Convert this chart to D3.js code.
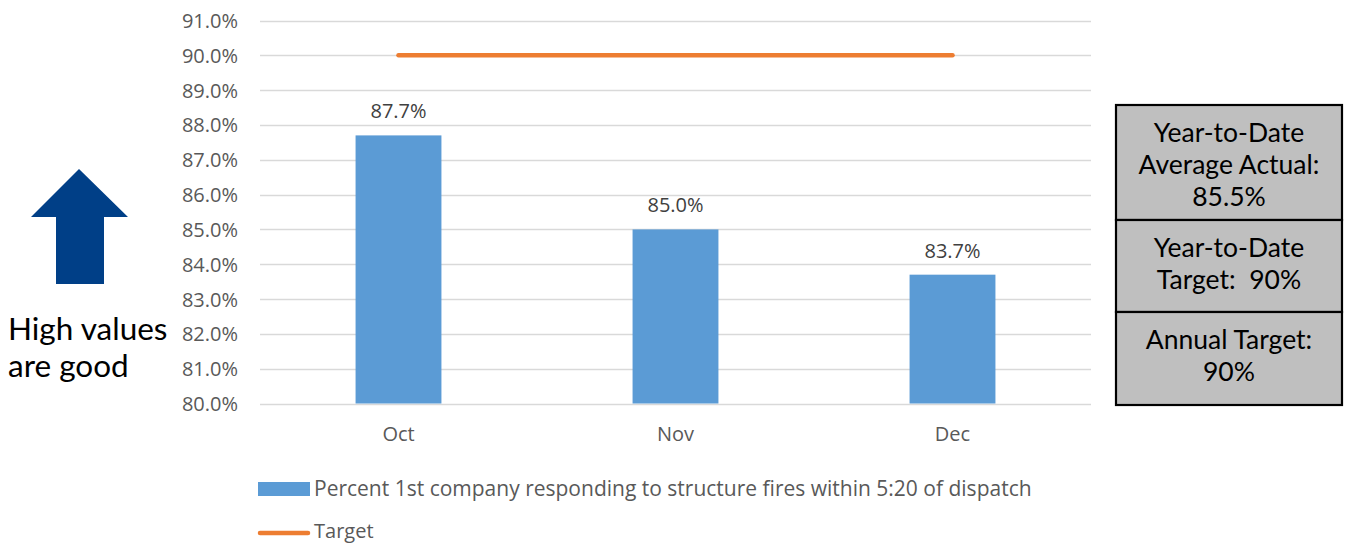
<!DOCTYPE html>
<html>
<head>
<meta charset="utf-8">
<script src="https://cdn.jsdelivr.net/npm/d3@7"></script>
<style>
  body { margin: 0; background: #fff; }
  svg text { font-family: "Open Sans", sans-serif; }
</style>
</head>
<body>
<div id="chart"></div>
<script>
// chart data
const months = ["Oct", "Nov", "Dec"];
const actual = [87.7, 85.0, 83.7];
const target = [90, 90, 90];
const yTicks = [80, 81, 82, 83, 84, 85, 86, 87, 88, 89, 90, 91];
const seriesNames = ["Percent 1st company responding to structure fires within 5:20 of dispatch", "Target"];
const boxLines = [
    ["Year-to-Date", "Average Actual:", "85.5%"],
    ["Year-to-Date", "Target:  90%"],
    ["Annual Target:", "90%"]
];
const noteLines = ["High values", "are good"];

const width = 1346, height = 544;
const margin = {top: 20.5, right: 255, bottom: 140.5, left: 260};

const svg = d3.select("#chart").append("svg")
    .attr("width", width)
    .attr("height", height);

let x = d3.scaleBand()
    .domain(months)
    .range([margin.left, width - margin.right])
    .paddingInner(0.69)
    .paddingOuter(0.345);

let y = d3.scaleLinear()
    .domain([80, 91])
    .range([height - margin.bottom, margin.top]);

// gridlines
svg.append("g")
    .selectAll("line")
    .data(yTicks)
    .enter().append("line")
    .attr("x1", margin.left)
    .attr("x2", width - margin.right)
    .attr("y1", d => Math.round(y(d)) + 0.5)
    .attr("y2", d => Math.round(y(d)) + 0.5)
    .attr("stroke", "#d9d9d9")
    .attr("stroke-width", 1.3);

// y axis labels
let yAxis = d3.axisLeft(y)
    .tickValues(yTicks)
    .tickFormat(d => d.toFixed(1) + "%")
    .tickSize(0)
    .tickPadding(0);

let yg = svg.append("g")
    .attr("transform", `translate(${margin.left - 22},0)`)
    .call(yAxis);
yg.select(".domain").remove();
yg.selectAll("text")
    .attr("fill", "#595959")
    .style("font-size", "20px")
    .attr("dy", "0.35em");

// x axis labels
let xAxis = d3.axisBottom(x).tickSize(0).tickPadding(0);
let xg = svg.append("g")
    .attr("transform", `translate(0,${height - margin.bottom + 19})`)
    .call(xAxis);
xg.select(".domain").remove();
xg.selectAll("text")
    .attr("fill", "#595959")
    .style("font-size", "20px")
    .attr("dy", "0.9em");

// bars
svg.append("g")
    .selectAll("rect")
    .data(actual)
    .enter().append("rect")
    .attr("x", (d, i) => x(months[i]))
    .attr("width", x.bandwidth())
    .attr("y", d => y(d))
    .attr("height", d => y(80) - y(d))
    .attr("fill", "#5b9bd5");

// data labels
svg.append("g")
    .selectAll("text")
    .data(actual)
    .enter().append("text")
    .attr("x", (d, i) => x(months[i]) + x.bandwidth() / 2)
    .attr("y", d => y(d) - 17)
    .attr("text-anchor", "middle")
    .attr("fill", "#404040")
    .style("font-size", "20px")
    .text(d => d.toFixed(1) + "%");

// target line
let line = d3.line()
    .x((d, i) => x(months[i]) + x.bandwidth() / 2)
    .y(d => y(d));

svg.append("path")
    .datum(target)
    .attr("d", line)
    .attr("fill", "none")
    .attr("stroke", "#ed7d31")
    .attr("stroke-width", 4.5)
    .attr("stroke-linecap", "round");

// legend
let legend = svg.append("g");
legend.append("rect")
    .attr("x", 258).attr("y", 482)
    .attr("width", 52).attr("height", 14)
    .attr("fill", "#5b9bd5");
legend.append("text")
    .attr("x", 314).attr("y", 496)
    .attr("fill", "#595959")
    .style("font-size", "21px")
    .text(seriesNames[0]);
legend.append("line")
    .attr("x1", 260).attr("x2", 308)
    .attr("y1", 533).attr("y2", 533)
    .attr("stroke", "#ed7d31")
    .attr("stroke-width", 4.5)
    .attr("stroke-linecap", "round");
legend.append("text")
    .attr("x", 314).attr("y", 538)
    .attr("fill", "#595959")
    .style("font-size", "20px")
    .text(seriesNames[1]);

// arrow
svg.append("path")
    .attr("d", "M79,169 L128,217 L104,217 L104,284 L56,284 L56,217 L31,217 Z")
    .attr("fill", "#003f87");

svg.append("g")
    .selectAll("text")
    .data(noteLines)
    .enter().append("text")
    .attr("x", 8)
    .attr("y", (d, i) => 340 + i * 37)
    .attr("fill", "#000")
    .style("font-family", "Lato, sans-serif")
    .style("font-size", "31.5px")
    .text(d => d);

// summary box
const boxX = 1116, boxW = 226;
const cells = [{y: 105, h: 115}, {y: 220, h: 92}, {y: 312, h: 93}];
let box = svg.append("g");
box.selectAll("rect")
    .data(cells)
    .enter().append("rect")
    .attr("x", boxX).attr("y", d => d.y)
    .attr("width", boxW).attr("height", d => d.h)
    .attr("fill", "#bfbfbf")
    .attr("stroke", "#000")
    .attr("stroke-width", 2.2);

boxLines.forEach((lines, k) => {
    box.append("g")
        .selectAll("text")
        .data(lines)
        .enter().append("text")
        .attr("x", boxX + boxW / 2)
        .attr("y", (d, i) => cells[k].y + 37 + i * 32)
        .attr("text-anchor", "middle")
        .attr("fill", "#000")
        .style("font-family", "Lato, sans-serif")
        .style("font-size", "26.5px")
        .style("white-space", "pre")
        .text(d => d);
});
</script>
</body>
</html>
